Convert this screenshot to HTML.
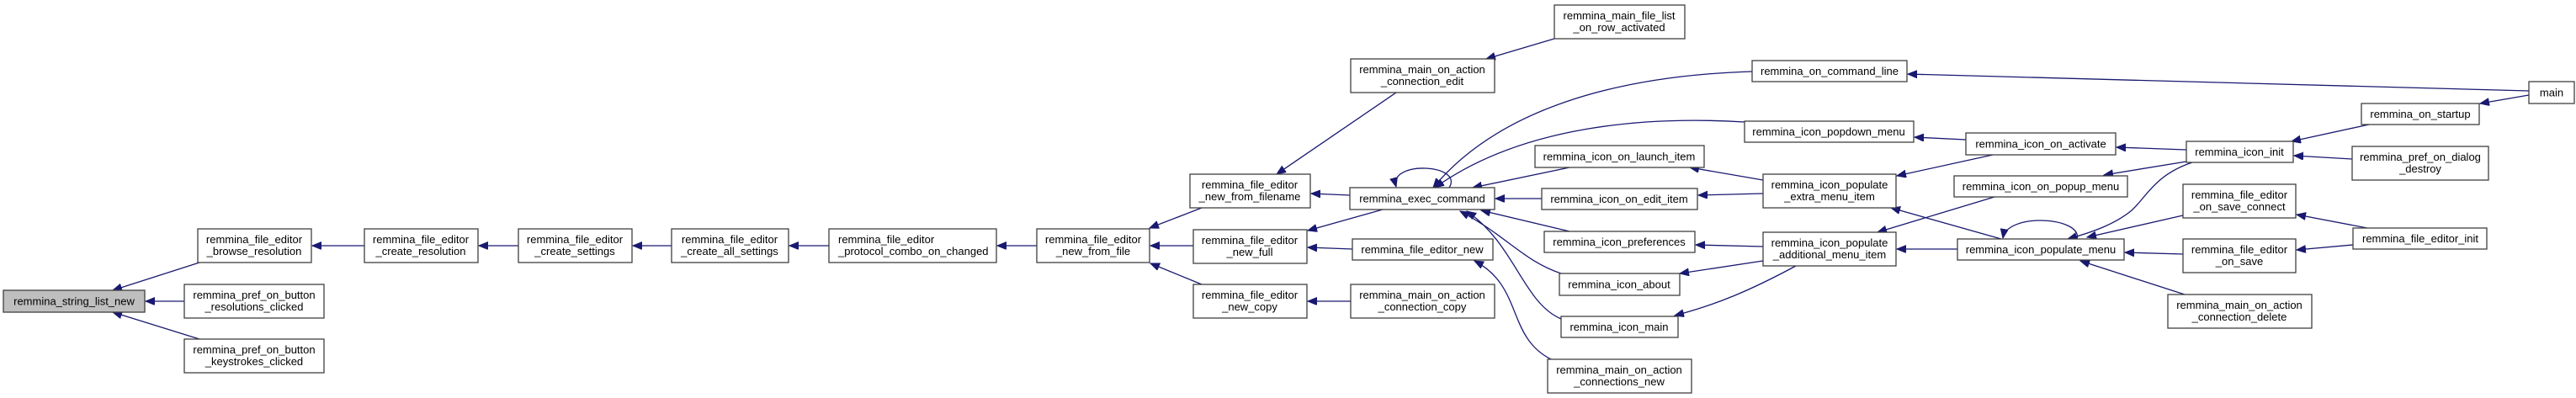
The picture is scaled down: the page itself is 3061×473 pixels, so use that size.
<!DOCTYPE html>
<html><head><meta charset="utf-8"><style>
html,body{margin:0;padding:0;background:#fff;}
svg{display:block;}
text{font-family:"Liberation Sans",Arial,sans-serif;font-size:13px;fill:#000;}
.b{fill:#fff;stroke:#404040;stroke-width:1.3;}
.g{fill:#bfbfbf;stroke:#404040;stroke-width:1.3;}
.e{fill:none;stroke:#191970;stroke-width:1.3;marker-end:url(#a);}
</style></head><body>
<svg width="3061" height="473" viewBox="0 0 3061 473" xmlns="http://www.w3.org/2000/svg">
<defs><marker id="a" markerUnits="userSpaceOnUse" markerWidth="12" markerHeight="10" refX="11" refY="4.5" orient="auto"><path d="M0,0 L11,4.5 L0,9 z" fill="#191970" stroke="#191970"/></marker></defs>

<!-- edges -->
<path class="e" d="M237,312 L134,345"/>
<path class="e" d="M219,358 L173,358"/>
<path class="e" d="M237,403 L134,371"/>
<path class="e" d="M433,292 L371,292"/>
<path class="e" d="M616,292 L569,292"/>
<path class="e" d="M798,292 L752,292"/>
<path class="e" d="M985,292 L938,292"/>
<path class="e" d="M1232,292 L1185,292"/>
<path class="e" d="M1428,247 L1366,271"/>
<path class="e" d="M1418,292 L1367,292"/>
<path class="e" d="M1428,338 L1367,313"/>
<path class="e" d="M1659,110 L1517,207"/>
<path class="e" d="M1604,232 L1558,230"/>
<path class="e" d="M1643,249 L1554,274"/>
<path class="e" d="M1607,296 L1554,294"/>
<path class="e" d="M1605,358 L1554,358"/>
<path class="e" d="M1847,46 L1766,70"/>
<path class="e" d="M2082,85 C1920,90 1780,130 1703,223"/>
<path class="e" d="M2073,145 C1960,138 1810,148 1705,223"/>
<path class="e" d="M1722,223 C1740,195 1650,190 1659,222"/>
<path class="e" d="M1865,199 L1750,223"/>
<path class="e" d="M1832,236 L1777,236"/>
<path class="e" d="M1865,275 L1760,250"/>
<path class="e" d="M1855,325 C1810,310 1790,280 1735,251"/>
<path class="e" d="M1855,379 C1810,360 1800,290 1743,251"/>
<path class="e" d="M1843,427 C1790,400 1810,340 1752,310"/>
<path class="e" d="M2095,214 L2008,199"/>
<path class="e" d="M2095,230 L2018,232"/>
<path class="e" d="M2095,293 L2015,291"/>
<path class="e" d="M2095,310 L1996,325"/>
<path class="e" d="M2134,316 C2080,345 2040,362 1990,375"/>
<path class="e" d="M2336,166 L2275,163"/>
<path class="e" d="M2368,184 L2254,209"/>
<path class="e" d="M2370,234 L2231,276"/>
<path class="e" d="M2378,284 L2247,247"/>
<path class="e" d="M2326,296 L2254,296"/>
<path class="e" d="M2468,284 C2475,258 2385,252 2380,283"/>
<path class="e" d="M2598,178 L2515,175"/>
<path class="e" d="M2598,192 L2500,208"/>
<path class="e" d="M2605,193 C2560,208 2550,235 2533,250 C2515,265 2490,275 2457,284"/>
<path class="e" d="M2594,256 L2480,282"/>
<path class="e" d="M2594,302 L2525,300"/>
<path class="e" d="M2596,350 L2472,310"/>
<path class="e" d="M2815,148 L2723,168"/>
<path class="e" d="M2795,189 L2726,185"/>
<path class="e" d="M2813,271 L2729,255"/>
<path class="e" d="M2796,291 L2729,297"/>
<path class="e" d="M3005,113 L2947,123"/>
<path class="e" d="M3005,108 L2267,88"/>

<!-- nodes -->
<rect class="g" x="4" y="345" width="168" height="26"/><text x="88" y="362.5" text-anchor="middle">remmina_string_list_new</text>
<rect class="b" x="235" y="272" width="135" height="40"/><text x="302" y="289" text-anchor="middle">remmina_file_editor</text><text x="302" y="303" text-anchor="middle">_browse_resolution</text>
<rect class="b" x="219" y="338" width="166" height="40"/><text x="302" y="355" text-anchor="middle">remmina_pref_on_button</text><text x="302" y="369" text-anchor="middle">_resolutions_clicked</text>
<rect class="b" x="219" y="403" width="166" height="40"/><text x="302" y="420" text-anchor="middle">remmina_pref_on_button</text><text x="302" y="434" text-anchor="middle">_keystrokes_clicked</text>
<rect class="b" x="433" y="272" width="135" height="40"/><text x="500" y="289" text-anchor="middle">remmina_file_editor</text><text x="500" y="303" text-anchor="middle">_create_resolution</text>
<rect class="b" x="616" y="272" width="135" height="40"/><text x="683" y="289" text-anchor="middle">remmina_file_editor</text><text x="683" y="303" text-anchor="middle">_create_settings</text>
<rect class="b" x="798" y="272" width="139" height="40"/><text x="867" y="289" text-anchor="middle">remmina_file_editor</text><text x="867" y="303" text-anchor="middle">_create_all_settings</text>
<rect class="b" x="985" y="272" width="199" height="40"/><text x="996" y="289">remmina_file_editor</text><text x="996" y="303">_protocol_combo_on_changed</text>
<rect class="b" x="1232" y="272" width="134" height="40"/><text x="1299" y="289" text-anchor="middle">remmina_file_editor</text><text x="1299" y="303" text-anchor="middle">_new_from_file</text>
<rect class="b" x="1414" y="207" width="143" height="40"/><text x="1485" y="224" text-anchor="middle">remmina_file_editor</text><text x="1485" y="238" text-anchor="middle">_new_from_filename</text>
<rect class="b" x="1418" y="273" width="135" height="40"/><text x="1485" y="290" text-anchor="middle">remmina_file_editor</text><text x="1485" y="304" text-anchor="middle">_new_full</text>
<rect class="b" x="1418" y="338" width="135" height="40"/><text x="1485" y="355" text-anchor="middle">remmina_file_editor</text><text x="1485" y="369" text-anchor="middle">_new_copy</text>
<rect class="b" x="1605" y="70" width="171" height="40"/><text x="1690" y="87" text-anchor="middle">remmina_main_on_action</text><text x="1690" y="101" text-anchor="middle">_connection_edit</text>
<rect class="b" x="1604" y="223" width="172" height="26"/><text x="1690" y="240.5" text-anchor="middle">remmina_exec_command</text>
<rect class="b" x="1607" y="284" width="167" height="25"/><text x="1690" y="301" text-anchor="middle">remmina_file_editor_new</text>
<rect class="b" x="1605" y="338" width="171" height="40"/><text x="1690" y="355" text-anchor="middle">remmina_main_on_action</text><text x="1690" y="369" text-anchor="middle">_connection_copy</text>
<rect class="b" x="1847" y="6" width="155" height="40"/><text x="1924" y="23" text-anchor="middle">remmina_main_file_list</text><text x="1924" y="37" text-anchor="middle">_on_row_activated</text>
<rect class="b" x="2082" y="72" width="184" height="25"/><text x="2174" y="89" text-anchor="middle">remmina_on_command_line</text>
<rect class="b" x="2073" y="144" width="201" height="25"/><text x="2173" y="161" text-anchor="middle">remmina_icon_popdown_menu</text>
<rect class="b" x="1824" y="173" width="201" height="26"/><text x="1924" y="190.5" text-anchor="middle">remmina_icon_on_launch_item</text>
<rect class="b" x="1832" y="224" width="185" height="25"/><text x="1924" y="241" text-anchor="middle">remmina_icon_on_edit_item</text>
<rect class="b" x="1835" y="275" width="179" height="25"/><text x="1924" y="292" text-anchor="middle">remmina_icon_preferences</text>
<rect class="b" x="1853" y="325" width="143" height="26"/><text x="1924" y="342.5" text-anchor="middle">remmina_icon_about</text>
<rect class="b" x="1855" y="376" width="139" height="25"/><text x="1924" y="393" text-anchor="middle">remmina_icon_main</text>
<rect class="b" x="1839" y="427" width="171" height="40"/><text x="1924" y="444" text-anchor="middle">remmina_main_on_action</text><text x="1924" y="458" text-anchor="middle">_connections_new</text>
<rect class="b" x="2095" y="207" width="158" height="40"/><text x="2174" y="224" text-anchor="middle">remmina_icon_populate</text><text x="2174" y="238" text-anchor="middle">_extra_menu_item</text>
<rect class="b" x="2095" y="276" width="158" height="40"/><text x="2174" y="293" text-anchor="middle">remmina_icon_populate</text><text x="2174" y="307" text-anchor="middle">_additional_menu_item</text>
<rect class="b" x="2336" y="158" width="178" height="26"/><text x="2425" y="175.5" text-anchor="middle">remmina_icon_on_activate</text>
<rect class="b" x="2322" y="209" width="206" height="25"/><text x="2425" y="226" text-anchor="middle">remmina_icon_on_popup_menu</text>
<rect class="b" x="2326" y="284" width="198" height="25"/><text x="2425" y="301" text-anchor="middle">remmina_icon_populate_menu</text>
<rect class="b" x="2598" y="168" width="127" height="25"/><text x="2661" y="185" text-anchor="middle">remmina_icon_init</text>
<rect class="b" x="2594" y="219" width="134" height="40"/><text x="2661" y="236" text-anchor="middle">remmina_file_editor</text><text x="2661" y="250" text-anchor="middle">_on_save_connect</text>
<rect class="b" x="2594" y="284" width="134" height="40"/><text x="2661" y="301" text-anchor="middle">remmina_file_editor</text><text x="2661" y="315" text-anchor="middle">_on_save</text>
<rect class="b" x="2576" y="350" width="171" height="40"/><text x="2661" y="367" text-anchor="middle">remmina_main_on_action</text><text x="2661" y="381" text-anchor="middle">_connection_delete</text>
<rect class="b" x="2806" y="123" width="140" height="25"/><text x="2876" y="140" text-anchor="middle">remmina_on_startup</text>
<rect class="b" x="2795" y="174" width="162" height="40"/><text x="2876" y="191" text-anchor="middle">remmina_pref_on_dialog</text><text x="2876" y="205" text-anchor="middle">_destroy</text>
<rect class="b" x="2796" y="271" width="159" height="25"/><text x="2876" y="288" text-anchor="middle">remmina_file_editor_init</text>
<rect class="b" x="3005" y="97" width="54" height="26"/><text x="3032" y="114.5" text-anchor="middle">main</text>
</svg>
</body></html>
